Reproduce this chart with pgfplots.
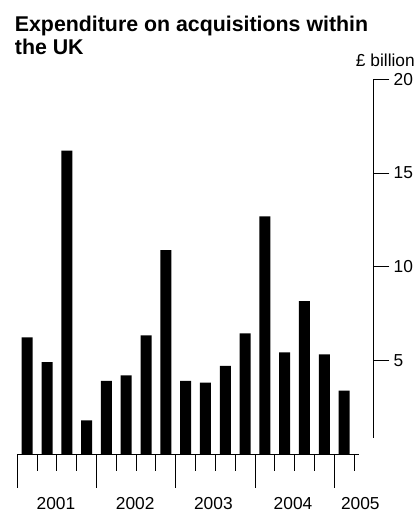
\documentclass[border=0pt]{standalone}
\usepackage{fontspec}
\setmainfont{Liberation Sans}
\usepackage{pgfplots}
\pgfplotsset{compat=1.18}

% quarterly expenditure, £ billion (2001 Q1 .. 2005 Q1)
\pgfplotstableread{
q   val
1   6.25
2   4.93
3   16.2
4   1.82
5   3.93
6   4.22
7   6.35
8   10.9
9   3.93
10  3.83
11  4.73
12  6.46
13  12.7
14  5.45
15  8.17
16  5.34
17  3.40
}\acqdata

\begin{document}
\fontsize{13}{15}\selectfont
\begin{tikzpicture}
\useasboundingbox (-12.975pt,-43.125pt) rectangle (300.525pt,340.875pt);

\node[anchor=base west, inner sep=0pt, font=\fontsize{16}{18}\selectfont\bfseries] at (-2pt,317.1pt) {Expenditure on acquisitions within};
\node[anchor=base west, inner sep=0pt, font=\fontsize{16}{18}\selectfont\bfseries] at (-2pt,300.15pt) {the UK};
\node[anchor=base east, inner sep=0pt] at (298.3pt,290.85pt) {£ billion};

\begin{axis}[
    scale only axis,
    width=266.8pt, height=281.4pt,
    xmin=0.5, xmax=18.46, ymin=0, ymax=20,
    clip=false,
    axis x line=bottom, axis y line=right,
    x axis line style={draw=none, -},
    y axis line style={draw=none, -},
    tick align=outside,
    tick style={black, line width=0.7pt},
    major tick length=12.3pt,
    ytick={5,10,15,20},
    xtick={1.5,2.5,3.5,5.5,6.5,7.5,9.5,10.5,11.5,13.5,14.5,15.5,17.5},
    xticklabels={},
    extra x ticks={0.5,4.5,8.5,12.5,16.5},
    extra x tick labels={},
    extra x tick style={major tick length=24.9pt},
    yticklabel style={inner sep=0pt, xshift=3pt},
    /pgf/number format/assume math mode=true,
    ybar, bar width=8.25pt,
]
\addplot[fill=black, draw=none] table[x=q, y=val] {\acqdata};

\draw[line width=0.7pt] (axis cs:0.5,0) -- (axis cs:17.75,0);
\draw[line width=0.7pt] (axis cs:18.46,0.9) -- (axis cs:18.46,20);

\node[anchor=base, inner sep=0pt, yshift=-40.9pt] at (axis cs:2.45,0) {2001};
\node[anchor=base, inner sep=0pt, yshift=-40.9pt] at (axis cs:6.45,0) {2002};
\node[anchor=base, inner sep=0pt, yshift=-40.9pt] at (axis cs:10.4,0) {2003};
\node[anchor=base, inner sep=0pt, yshift=-40.9pt] at (axis cs:14.42,0) {2004};
\node[anchor=base, inner sep=0pt, yshift=-40.9pt] at (axis cs:17.82,0) {2005};
\end{axis}
\end{tikzpicture}
\end{document}
